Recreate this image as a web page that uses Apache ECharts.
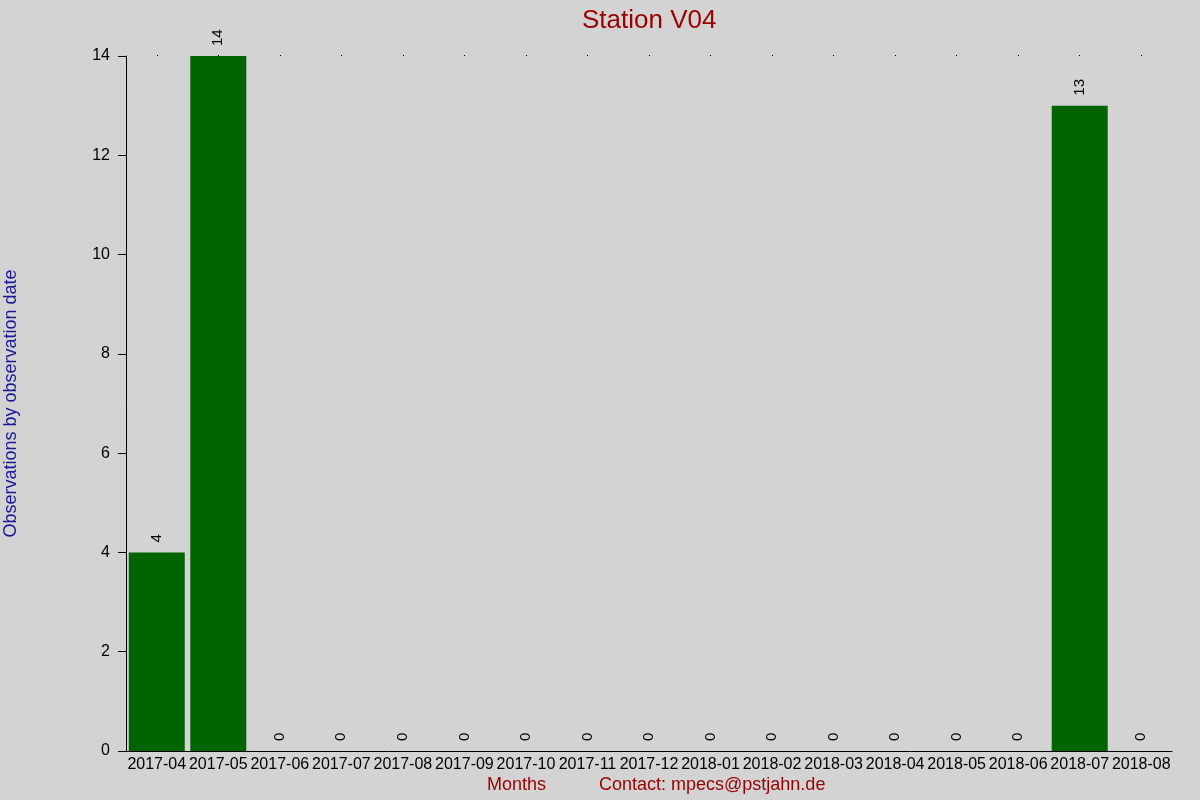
<!DOCTYPE html>
<html>
<head>
<meta charset="utf-8">
<script src="https://cdn.jsdelivr.net/npm/echarts@6/dist/echarts.min.js"></script>
<style>
  html, body {margin: 0; padding: 0; background: #d3d3d3;}
  #chart {width: 1200px; height: 800px;}
</style>
</head>
<body>
<div id="chart"></div>
<script>
const months = [
  "2017-04", "2017-05", "2017-06", "2017-07", "2017-08", "2017-09",
  "2017-10", "2017-11", "2017-12", "2018-01", "2018-02", "2018-03",
  "2018-04", "2018-05", "2018-06", "2018-07", "2018-08",
];
const observations = [4, 14, 0, 0, 0, 0, 0, 0, 0, 0, 0, 0, 0, 0, 0, 13, 0];

const FONT = "Liberation Sans, Arial, sans-serif";
const RED = "#990000";

const chart = echarts.init(document.getElementById("chart"));

chart.setOption({
  backgroundColor: "#d3d3d3",
  animation: false,
  title: {
    text: "Station V04",
    left: 577,
    top: 3,
    textStyle: {color: RED, fontFamily: FONT, fontSize: 26, fontWeight: "normal"},
  },
  grid: {left: 126, right: 28, top: 56, bottom: 49, outerBoundsMode: "none", containLabel: false},
  xAxis: [{
    type: "category",
    data: months,
    axisLine: {lineStyle: {color: "#000", width: 1}},
    axisTick: {show: false},
    axisLabel: {color: "#000", fontFamily: FONT, fontSize: 16, margin: 6, interval: 0},
  }, {
    // the little dots along the top edge
    type: "category",
    data: months,
    position: "top",
    axisLine: {show: false},
    axisTick: {show: true, alignWithLabel: true, length: 1, lineStyle: {color: "#000"}},
    axisLabel: {show: false},
  }],
  yAxis: {
    type: "value",
    min: 0,
    max: 14,
    interval: 2,
    name: "Observations by observation date",
    nameLocation: "middle",
    nameGap: 106,
    nameTextStyle: {color: "#1a1a99", fontFamily: FONT, fontSize: 18},
    axisLine: {show: true, lineStyle: {color: "#000", width: 1}},
    axisTick: {show: true, length: 8, lineStyle: {color: "#000"}},
    axisLabel: {color: "#000", fontFamily: FONT, fontSize: 16, margin: 16},
    splitLine: {show: false},
  },
  graphic: [
    {
      type: "text",
      left: 487,
      top: 776,
      style: {text: "Months", fill: RED, font: "18px " + FONT},
    },
    {
      type: "text",
      left: 599,
      top: 776,
      style: {text: "Contact: mpecs@pstjahn.de", fill: RED, font: "18px " + FONT},
    },
  ],
  series: [{
    type: "bar",
    data: observations,
    barWidth: 56,
    itemStyle: {color: "#006400"},
    label: {
      show: true,
      position: "top",
      rotate: 90,
      align: "left",
      verticalAlign: "middle",
      distance: 10,
      color: "#000",
      fontFamily: FONT,
      fontSize: 15,
    },
  }],
});
</script>
</body>
</html>
